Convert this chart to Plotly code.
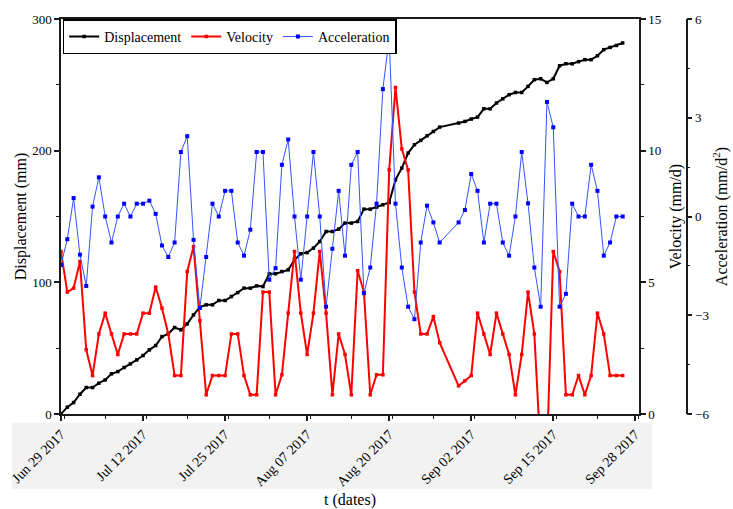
import pandas as pd
import plotly.graph_objects as go

# Monitoring record: day offsets from 29 Jun 2017 (days 61-62 have no reading)
start_date = "2017-06-29"
day_offsets = list(range(0, 61)) + list(range(63, 90))

displacement_mm = [
    0.0, 5.2, 8.7, 15.0, 20.1, 20.1, 23.4, 25.9, 30.5, 32.2,
    35.3, 38.1, 41.1, 44.4, 48.7, 52.0, 58.8, 60.9, 65.7, 63.9,
    68.5, 75.3, 81.2, 82.9, 82.9, 86.2, 86.2, 89.2, 92.2, 95.6,
    95.6, 97.3, 96.8, 106.5, 106.5, 108.2, 109.5, 117.1, 121.7, 122.6,
    126.0, 131.0, 138.6, 138.6, 140.4, 145.0, 145.0, 146.2, 155.6, 155.6,
    157.1, 158.9, 160.6, 177.9, 186.8, 198.2, 204.5, 207.8, 211.3, 214.6,
    217.9,
    221.0, 222.2, 224.0, 225.5, 231.8, 231.8, 236.2, 239.4, 242.5, 244.2,
    244.2, 248.8, 253.9, 254.6, 251.8, 254.6, 264.5, 266.0, 266.0, 267.6,
    269.1, 269.1, 272.1, 276.7, 278.4, 279.9, 281.8,
]

velocity_mm_d = [
    6.17, 4.63, 4.78, 5.79, 2.44, 1.46, 3.04, 3.83, 3.04, 2.26,
    3.04, 3.04, 3.04, 3.83, 3.83, 4.82, 4.02, 3.04, 1.46, 1.46,
    5.41, 6.36, 3.54, 0.73, 1.46, 1.46, 1.46, 3.04, 3.04, 1.46,
    0.73, 0.73, 4.63, 4.63, 0.73, 1.49, 3.83, 6.17, 3.83, 2.26,
    3.83, 6.17, 3.83, 0.73, 3.04, 2.26, 0.73, 5.44, 4.63, 0.73,
    1.49, 1.49, 9.27, 12.4, 10.07, 9.27, 4.63, 3.04, 3.04, 3.70,
    2.71,
    1.07, 1.26, 1.46, 3.83, 3.04, 2.26, 3.83, 3.04, 2.26, 0.73,
    2.26, 4.63, 3.04, -1.5, -1.5, 6.17, 5.41, 0.73, 0.73, 1.46,
    0.73, 1.46, 3.83, 3.04, 1.46, 1.46, 1.46,
]

acceleration_mm_d2 = [
    -1.47, -0.69, 0.56, -1.16, -2.11, 0.30, 1.19, 0.0, -0.79, 0.0,
    0.39, 0.0, 0.39, 0.39, 0.48, 0.08, -0.88, -1.23, -0.79, 1.96,
    2.44, -0.71, -2.78, -1.23, 0.39, 0.0, 0.78, 0.78, -0.79, -1.19,
    -0.40, 1.96, 1.96, -1.92, -1.57, 1.57, 2.34, 0.0, -1.92, 0.0,
    1.96, 0.0, -2.74, -0.98, 0.78, -1.19, 1.57, 1.96, -2.33, -1.55,
    0.39, 3.87, 5.43, 0.39, -1.55, -2.74, -3.12, -0.79, 0.33, -0.18,
    -0.79,
    -0.18, 0.20, 1.29, 0.78, -0.79, 0.39, 0.39, -0.79, -1.19, 0.0,
    1.96, 0.40, -1.55, -2.74, 3.48, 2.71, -2.74, -2.35, 0.39, 0.0,
    0.0, 1.57, 0.78, -1.19, -0.79, 0.0, 0.0,
]

dates = pd.Timestamp(start_date) + pd.to_timedelta(day_offsets, unit="D")

SERIF = "Liberation Serif"
AXIS_COLOR = "#1a1a1a"
DAY_MS = 86400000

fig = go.Figure()

fig.add_trace(go.Scatter(
    x=dates, y=displacement_mm, name="Displacement", mode="lines+markers",
    line=dict(color="black", width=2),
    marker=dict(symbol="square", size=3.5, color="black"),
    yaxis="y",
))
fig.add_trace(go.Scatter(
    x=dates, y=velocity_mm_d, name="Velocity", mode="lines+markers",
    line=dict(color="#ff0000", width=2),
    marker=dict(symbol="square", size=3.5, color="#ff0000"),
    yaxis="y2",
))
fig.add_trace(go.Scatter(
    x=dates, y=acceleration_mm_d2, name="Acceleration", mode="lines+markers",
    line=dict(color="#3355ff", width=1),
    marker=dict(symbol="square", size=4, color="#0000ff"),
    yaxis="y3",
))

tick_font = dict(family=SERIF, size=13, color="black")
title_font = dict(family=SERIF, size=16, color="black")

axis_common = dict(
    showgrid=False, zeroline=False, showline=True,
    linecolor=AXIS_COLOR, linewidth=1.5,
    ticks="outside", ticklen=5, tickwidth=1.5, tickcolor=AXIS_COLOR,
    tickfont=tick_font,
    automargin=False,
)


def minor_ticks(step):
    return dict(dtick=step, ticks="outside", ticklen=3,
                tickcolor=AXIS_COLOR, tickwidth=1.2)


plot_right = 578 / 672

fig.update_layout(
    width=733, height=509,
    margin=dict(l=61, r=0, t=19, b=95),
    paper_bgcolor="white", plot_bgcolor="white",
    font=dict(family=SERIF, color="black", size=13),
    xaxis=dict(
        **{**axis_common, "tickfont": dict(family=SERIF, size=14, color="black")},
        domain=[0, plot_right],
        type="date",
        range=["2017-06-29", "2017-09-28 14:00"],
        tick0="2017-06-29", dtick=13 * DAY_MS,
        tickformat="%b %d %Y", tickangle=-45,
        minor=minor_ticks(6.5 * DAY_MS),
        mirror=True,
        title=dict(text="t (dates)", font=title_font, standoff=10),
    ),
    yaxis=dict(
        **axis_common,
        range=[0, 300], dtick=100,
        minor=minor_ticks(50),
        title=dict(text="Displacement (mm)", font=title_font, standoff=2),
    ),
    yaxis2=dict(
        **axis_common,
        overlaying="y", side="right", anchor="x",
        range=[0, 15], dtick=5,
        minor=minor_ticks(2.5),
        title=dict(text="Velocity (mm/d)", font=title_font, standoff=9),
    ),
    yaxis3=dict(
        **axis_common,
        overlaying="y", side="right", anchor="free",
        position=(686.7 - 61) / 672,
        range=[-6, 6], dtick=3,
        minor=minor_ticks(1.5),
        title=dict(text="Acceleration (mm/d<sup>2</sup>)",
                   font=title_font, standoff=6),
    ),
    legend=dict(
        orientation="h", x=0.0025, y=0.999, xanchor="left", yanchor="top",
        bgcolor="white", bordercolor="black", borderwidth=1.5,
        font=dict(family=SERIF, size=14, color="black"),
        itemwidth=30, tracegroupgap=0,
    ),
    showlegend=True,
    shapes=[dict(
        type="rect", xref="paper", yref="paper", layer="below",
        x0=(12 - 61) / 672, x1=(652 - 61) / 672,
        y0=(414 - 489) / 395, y1=(414 - 422.7) / 395,
        fillcolor="#f2f2f2", line=dict(width=0),
    )],
)

fig.write_html("out.html")
